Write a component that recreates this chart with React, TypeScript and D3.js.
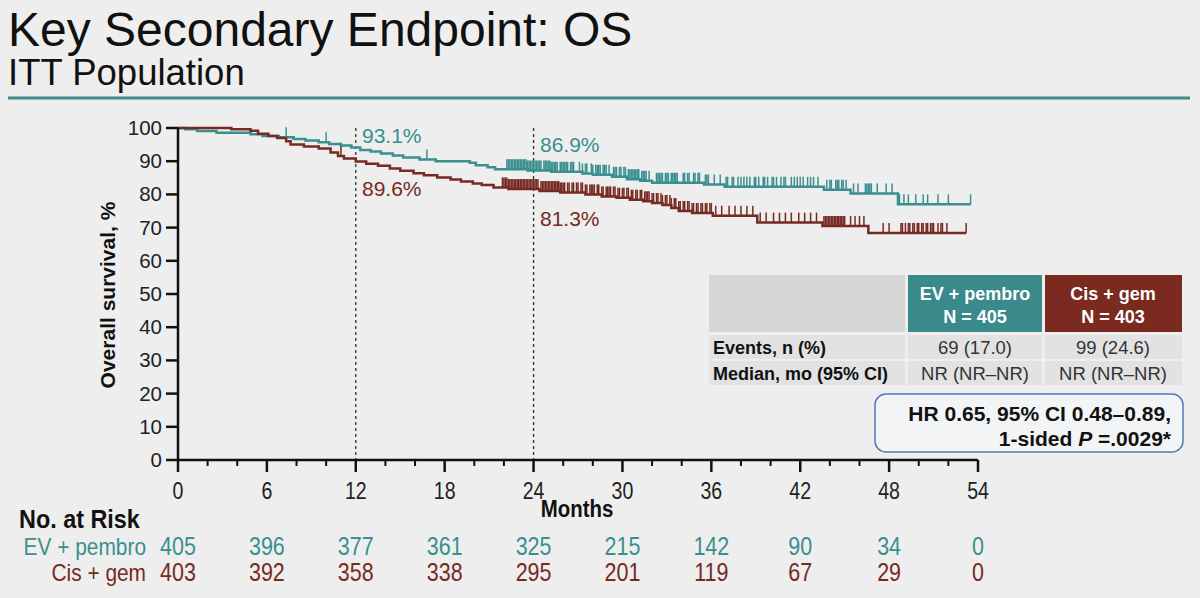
import React from 'react';
import * as d3 from 'd3';

// Kaplan-Meier steps: [month, survival %]
const evSteps: [number, number][] = [
  [0, 100], [0.5, 99.6], [1.3, 99.1], [2.6, 98.6], [4.9, 98.1], [5.7, 97.6], [6.8, 97.2],
  [7.8, 96.7], [8.6, 96.2], [9.5, 95.7], [10.2, 95.2], [11.0, 94.7], [11.7, 94.1], [12.3, 93.4],
  [13.0, 92.9], [13.7, 92.3], [14.5, 91.7], [15.2, 91.1], [16.3, 90.5], [17.4, 90.0], [19.7, 89.5],
  [20.1, 88.8], [20.9, 88.2], [21.4, 87.6], [23.6, 87.2], [25.2, 86.8], [27.3, 86.3], [28.0, 85.9],
  [29.3, 85.3], [30.3, 84.6], [31.2, 84.1], [32.0, 83.5], [35.5, 83.0], [36.9, 82.3], [43.6, 81.4],
  [45.4, 80.3], [48.6, 77.0],
];
const evEnd = 53.5;

const cgSteps: [number, number][] = [
  [0, 100], [3.6, 99.6], [4.9, 99.2], [5.4, 98.3], [6.1, 97.6], [6.7, 97.0], [7.3, 96.0],
  [7.6, 95.0], [8.5, 94.4], [9.5, 93.8], [10.3, 92.6], [10.8, 91.6], [11.2, 90.8], [12.0, 89.9],
  [12.7, 89.2], [13.5, 88.6], [14.3, 87.8], [15.0, 87.1], [15.9, 86.4], [16.6, 85.8], [17.5, 85.1],
  [18.4, 84.5], [19.1, 83.9], [19.9, 83.3], [20.5, 82.8], [21.3, 82.1], [22.3, 81.6], [24.4, 81.0],
  [25.8, 80.6], [27.5, 80.0], [28.6, 79.4], [29.6, 79.0], [30.5, 78.4], [31.4, 77.9], [32.0, 77.4],
  [32.7, 76.8], [33.3, 75.9], [33.8, 75.0], [34.7, 74.4], [36.1, 73.6], [39.1, 71.5], [43.5, 70.5],
  [46.6, 68.4],
];
const cgEnd = 53.2;

// censored observations (months)
const evCensor = [
  7.3, 10.0, 16.8,
  22.2, 22.3, 22.4, 22.5, 22.6, 22.7, 22.8, 22.9, 23.0, 23.1, 23.2, 23.3, 23.4, 23.5, 23.6, 23.7,
  23.8, 23.9, 24.0, 24.1, 24.2, 24.3, 24.4, 24.5, 24.7, 24.8, 24.9, 25.0, 25.1, 25.2, 25.3, 25.4,
  25.5, 25.6, 25.8, 25.9, 26.0, 26.1, 26.2, 26.3, 26.5, 26.6, 26.7, 27.1, 27.3, 27.5, 27.6, 27.9,
  28.0, 28.2, 28.3, 28.4, 28.5, 28.7, 28.8, 28.9, 29.1, 29.4, 29.5, 29.6, 29.8, 29.9, 30.1, 30.2,
  30.4, 30.5, 30.6, 30.7, 30.8, 30.9, 31.0, 31.1, 31.3, 31.4, 31.5, 31.6, 31.8, 32.3, 32.4, 32.5,
  32.6, 32.7, 32.9, 33.0, 33.1, 33.3, 33.4, 33.5, 33.6, 33.7, 34.1, 34.2, 34.4, 34.5, 34.8, 34.9,
  35.1, 35.2, 35.6, 35.7, 35.8,
  36.2, 36.6, 37.0, 37.1, 37.4, 37.5, 37.8, 38.0, 38.2, 38.4, 38.6, 38.9, 39.0, 39.2, 39.5, 39.6,
  39.8, 40.1, 40.2, 40.4, 40.7, 40.9, 41.0, 41.4, 41.6, 41.8, 42.0, 42.2, 42.5, 42.7, 42.9, 43.2,
  43.8, 44.0, 44.1, 44.4, 44.5, 44.6, 44.8, 44.9, 45.1,
  45.6, 45.9, 46.4, 46.5, 46.6, 46.7, 46.8, 47.2, 47.8, 48.2,
  48.7, 49.0, 49.3, 49.8, 50.3, 50.6, 51.3, 52.0, 53.5,
];
const cgCensor = [
  11.0,
  21.9, 22.0, 22.1, 22.2, 22.3, 22.4, 22.5, 22.6, 22.7, 22.8, 22.9, 23.0, 23.1, 23.2, 23.3, 23.4,
  23.5, 23.6, 23.7, 23.8, 23.9, 24.0, 24.1, 24.2, 24.3, 24.5, 24.6, 24.7, 24.8, 24.9, 25.0, 25.1,
  25.2, 25.3, 25.4, 25.5, 25.6, 25.7, 25.8, 25.9, 26.0, 26.1, 26.3, 26.4, 26.6, 26.7, 26.9, 27.0,
  27.2, 27.3, 27.5, 27.6, 27.8, 27.9, 28.0, 28.1, 28.3, 28.4, 28.6, 28.7, 28.9, 29.0, 29.1, 29.2,
  29.4, 29.5, 29.7, 29.8, 30.0, 30.1, 30.3, 30.4, 30.6, 30.7, 30.9, 31.0, 31.2, 31.3, 31.5, 31.6,
  31.7, 31.8, 32.0, 32.1, 32.3, 32.4, 32.6, 32.7, 32.9, 33.0, 33.2, 33.3, 33.5, 33.6, 33.8, 33.9,
  34.1, 34.2, 34.4, 34.5, 34.7, 34.8, 35.0, 35.1, 35.3, 35.4, 35.6, 35.7, 35.9, 36.0,
  36.3, 36.7, 37.2, 37.6, 38.0, 38.4, 38.8,
  39.3, 39.7, 40.2, 40.6, 41.0, 41.4, 41.9, 42.3, 42.7, 43.1,
  43.6, 43.7, 43.8, 43.9, 44.0, 44.1, 44.2, 44.3, 44.4, 44.5, 44.6, 44.7, 44.8, 44.9, 45.0,
  45.4, 45.7, 46.0, 46.3,
  47.6, 48.0, 48.8, 48.9, 49.1, 49.3, 49.4, 49.6, 49.7, 49.9, 50.0, 50.2, 50.3, 50.5, 50.6, 50.8,
  50.9, 51.0, 51.3, 51.5, 51.6, 51.9, 53.2,
];

const xTicks = [0, 6, 12, 18, 24, 30, 36, 42, 48, 54];
const xMinor = [2, 4, 8, 10, 14, 16, 20, 22, 26, 28, 32, 34, 38, 40, 44, 46, 50, 52];
const yTicks = [0, 10, 20, 30, 40, 50, 60, 70, 80, 90, 100];
const landmarks = [12, 24];

const riskEv = [405, 396, 377, 361, 325, 215, 142, 90, 34, 0];
const riskCg = [403, 392, 358, 338, 295, 201, 119, 67, 29, 0];

const armNames = ['EV + pembro', 'Cis + gem'];
const armN = ['N = 405', 'N = 403'];
const events = ['69 (17.0)', '99 (24.6)'];
const medians = ['NR (NR–NR)', 'NR (NR–NR)'];

const TEAL = '#3a8f90';
const MAROON = '#772a22';
const BG = '#eeeeee';
const SANS = '"Liberation Sans", Arial, sans-serif';

const survAt = (steps: [number, number][], t: number) => {
  let v = steps[0][1];
  for (const s of steps) if (s[0] <= t) v = s[1];
  return v;
};

// condensed text (no narrow font installed, so squeeze horizontally)
const Narrow = ({ x, y, size, sx = 0.86, anchor = 'start', bold = false, fill = '#222', children }: any) => (
  <text
    transform={`translate(${x},${y}) scale(${sx},1)`}
    textAnchor={anchor}
    fontFamily={SANS}
    fontWeight={bold ? 'bold' : 'normal'}
    fontSize={size}
    fill={fill}
  >
    {children}
  </text>
);

export default function App() {
  const x = d3.scaleLinear().domain([0, 54]).range([178, 978]);
  const y = d3.scaleLinear().domain([0, 100]).range([460, 128]);

  const line = d3.line<[number, number]>()
    .x(d => x(d[0]))
    .y(d => y(d[1]))
    .curve(d3.curveStepAfter);

  const evPath = line([...evSteps, [evEnd, evSteps[evSteps.length - 1][1]]]) || '';
  const cgPath = line([...cgSteps, [cgEnd, cgSteps[cgSteps.length - 1][1]]]) || '';

  const tx = 975;
  const mx = 1113;

  return (
    <svg width={1200} height={598} style={{ position: 'absolute', left: 0, top: 0, background: BG }}>
      <rect width={1200} height={598} fill={BG} />
      {/* title */}
      <text x={8} y={46} fontFamily={SANS} fontSize={48} fill="#111">Key Secondary Endpoint: OS</text>
      <text x={8} y={85} fontFamily={SANS} fontSize={36.5} fill="#111">ITT Population</text>
      <line x1={8} x2={1190} y1={98} y2={98} stroke="#3f8c8c" strokeWidth={3} />

      {/* landmark lines */}
      {landmarks.map(m => (
        <line key={m} x1={x(m)} x2={x(m)} y1={y(100)} y2={y(0)} stroke="#333" strokeWidth={1.3} strokeDasharray="3,3" />
      ))}

      {/* curves */}
      <path d={evPath} fill="none" stroke={TEAL} strokeWidth={2.5} />
      <path d={cgPath} fill="none" stroke={MAROON} strokeWidth={2.5} />
      {evCensor.map((c, i) => (
        <line key={'e' + i} x1={x(c)} x2={x(c)} y1={y(survAt(evSteps, c))} y2={y(survAt(evSteps, c)) - 10} stroke={TEAL} strokeWidth={1.5} />
      ))}
      {cgCensor.map((c, i) => (
        <line key={'c' + i} x1={x(c)} x2={x(c)} y1={y(survAt(cgSteps, c))} y2={y(survAt(cgSteps, c)) - 10} stroke={MAROON} strokeWidth={1.5} />
      ))}

      {/* landmark values */}
      <text x={362} y={143} fontFamily={SANS} fontSize={21} fill={TEAL}>93.1%</text>
      <text x={362} y={196} fontFamily={SANS} fontSize={21} fill={MAROON}>89.6%</text>
      <text x={540} y={152} fontFamily={SANS} fontSize={21} fill={TEAL}>86.9%</text>
      <text x={540} y={226} fontFamily={SANS} fontSize={21} fill={MAROON}>81.3%</text>

      {/* y axis */}
      <line x1={178} x2={178} y1={y(100)} y2={y(0)} stroke="#111" strokeWidth={2.5} />
      {yTicks.map(t => (
        <g key={t}>
          <line x1={166} x2={178} y1={y(t)} y2={y(t)} stroke="#111" strokeWidth={2.5} />
          <text x={162} y={y(t) + 7} textAnchor="end" fontFamily={SANS} fontSize={20.5} fill="#222">{t}</text>
        </g>
      ))}
      <text transform="translate(115,295) rotate(-90)" textAnchor="middle" fontFamily={SANS} fontWeight="bold" fontSize={21} fill="#111">Overall survival, %</text>

      {/* x axis */}
      <line x1={x(0)} x2={x(54)} y1={460} y2={460} stroke="#111" strokeWidth={2.5} />
      {xTicks.map(t => (
        <g key={t}>
          <line x1={x(t)} x2={x(t)} y1={460} y2={472} stroke="#111" strokeWidth={2.5} />
          <Narrow x={x(t)} y={499} size={23} sx={0.85} anchor="middle">{t}</Narrow>
        </g>
      ))}
      {xMinor.map(t => (
        <line key={t} x1={x(t)} x2={x(t)} y1={460} y2={466} stroke="#111" strokeWidth={2} />
      ))}
      <Narrow x={577} y={517} size={24} sx={0.85} anchor="middle" bold fill="#111">Months</Narrow>

      {/* number at risk */}
      <Narrow x={19} y={528} size={26} sx={0.9} bold fill="#111">No. at Risk</Narrow>
      <Narrow x={146} y={555} size={24} sx={0.87} anchor="end" fill={TEAL}>{armNames[0]}</Narrow>
      <Narrow x={146} y={581} size={24} sx={0.87} anchor="end" fill={MAROON}>{armNames[1]}</Narrow>
      {riskEv.map((v, i) => (
        <Narrow key={'re' + i} x={x(xTicks[i])} y={555} size={25} sx={0.86} anchor="middle" fill={TEAL}>{v}</Narrow>
      ))}
      {riskCg.map((v, i) => (
        <Narrow key={'rc' + i} x={x(xTicks[i])} y={581} size={25} sx={0.86} anchor="middle" fill={MAROON}>{v}</Narrow>
      ))}

      {/* summary table */}
      <rect x={709} y={275} width={196} height={57} fill="#d6d6d6" />
      <rect x={908} y={275} width={134} height={57} fill="#3a8a8c" />
      <rect x={1045} y={275} width={137} height={57} fill="#7a2a1f" />
      <text x={tx} y={300} textAnchor="middle" fontFamily={SANS} fontWeight="bold" fontSize={18} fill="#fff">{armNames[0]}</text>
      <text x={tx} y={323} textAnchor="middle" fontFamily={SANS} fontWeight="bold" fontSize={18} fill="#fff">{armN[0]}</text>
      <text x={mx} y={300} textAnchor="middle" fontFamily={SANS} fontWeight="bold" fontSize={18} fill="#fff">{armNames[1]}</text>
      <text x={mx} y={323} textAnchor="middle" fontFamily={SANS} fontWeight="bold" fontSize={18} fill="#fff">{armN[1]}</text>

      {[335, 361].map((ry, r) => (
        <g key={ry}>
          <rect x={709} y={ry} width={196} height={24} fill="#e2e2e2" />
          <rect x={908} y={ry} width={134} height={24} fill="#e2e2e2" />
          <rect x={1045} y={ry} width={137} height={24} fill="#e2e2e2" />
          <text x={713} y={ry + 19} fontFamily={SANS} fontWeight="bold" fontSize={18} fill="#111">
            {r === 0 ? 'Events, n (%)' : 'Median, mo (95% CI)'}
          </text>
          <text x={tx} y={ry + 19} textAnchor="middle" fontFamily={SANS} fontSize={18.5} fill="#333">{r === 0 ? events[0] : medians[0]}</text>
          <text x={mx} y={ry + 19} textAnchor="middle" fontFamily={SANS} fontSize={18.5} fill="#333">{r === 0 ? events[1] : medians[1]}</text>
        </g>
      ))}

      {/* HR box */}
      <rect x={875} y={394} width={308} height={58} rx={11} fill="#f3f4f6" stroke="#4d7bb8" strokeWidth={1.5} />
      <text x={1171} y={421} textAnchor="end" fontFamily={SANS} fontWeight="bold" fontSize={21} fill="#111">HR 0.65, 95% CI 0.48–0.89,</text>
      <text x={1171} y={446} textAnchor="end" fontFamily={SANS} fontWeight="bold" fontSize={21} fill="#111">
        1-sided <tspan fontStyle="italic">P</tspan> =.0029*
      </text>
    </svg>
  );
}
